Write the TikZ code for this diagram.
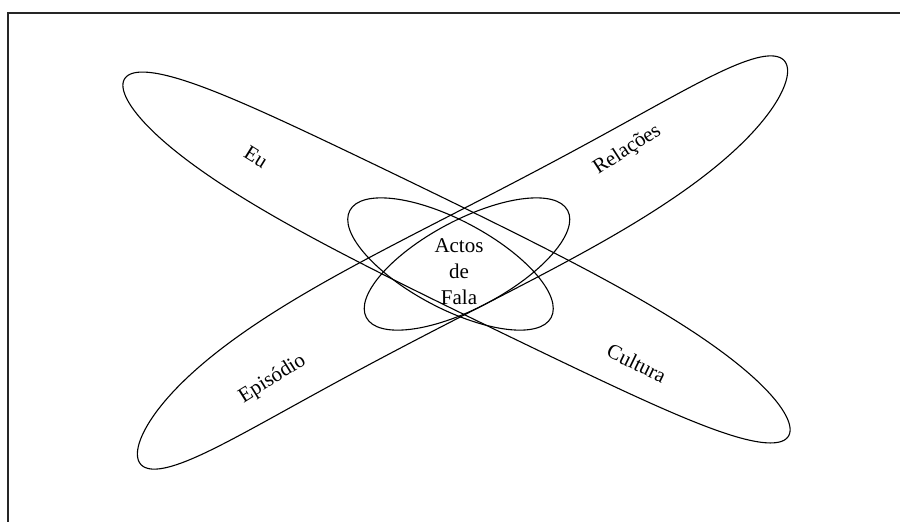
\documentclass[tikz,border=0pt]{standalone}
\usepackage{fontspec}
\setmainfont{Liberation Serif}
\begin{document}
\begin{tikzpicture}[x=0.5pt,y=-0.5pt,
  ring/.style={draw=black, line width=0.55pt},
  lbl/.style={font=\fontsize{10.5}{13}\selectfont, inner sep=0pt}]
\useasboundingbox (0,0) rectangle (900,521);
\draw[line width=0.6pt, black!85] (903,13) -- (8,13) -- (8,524);
% Eu - Cultura
\draw[ring, shift={(456.5,257.5)}, rotate=-28.2]
  plot[domain=0:360, samples=240, smooth cycle]
  ({377*cos(\x)}, {63*sin(\x)*(1-0.24*sin(\x)^2) - 0.035*377*cos(\x)*sin(\x)^2});
% Relacoes - Episodio
\draw[ring, shift={(462.5,262.5)}, rotate=31.8]
  plot[domain=0:360, samples=240, smooth cycle]
  ({380*cos(\x)}, {68*sin(\x)*(1-0.30*sin(\x)^2) + 0.08*380*cos(\x)*sin(\x)^2});
% central ellipses
\draw[ring, rotate around={-28:(450.5,264)}] (450.5,264) ellipse [x radius=57pt, y radius=22pt];
\draw[ring, rotate around={28:(467,264)}] (467,264) ellipse [x radius=57pt, y radius=22pt];
% labels
\node[lbl, rotate=-32] (eu) at (256,157) {Eu};
\node[lbl, rotate=33] (rel) at (627.5,150) {Relações};
\node[lbl, rotate=32] (epi) at (272.5,379) {Episódio};
\node[lbl, rotate=-26] (cul) at (636.7,363.3) {Cultura};
\node[lbl, align=center] (af) at (459,272) {Actos\\de\\Fala};
\end{tikzpicture}
\end{document}
